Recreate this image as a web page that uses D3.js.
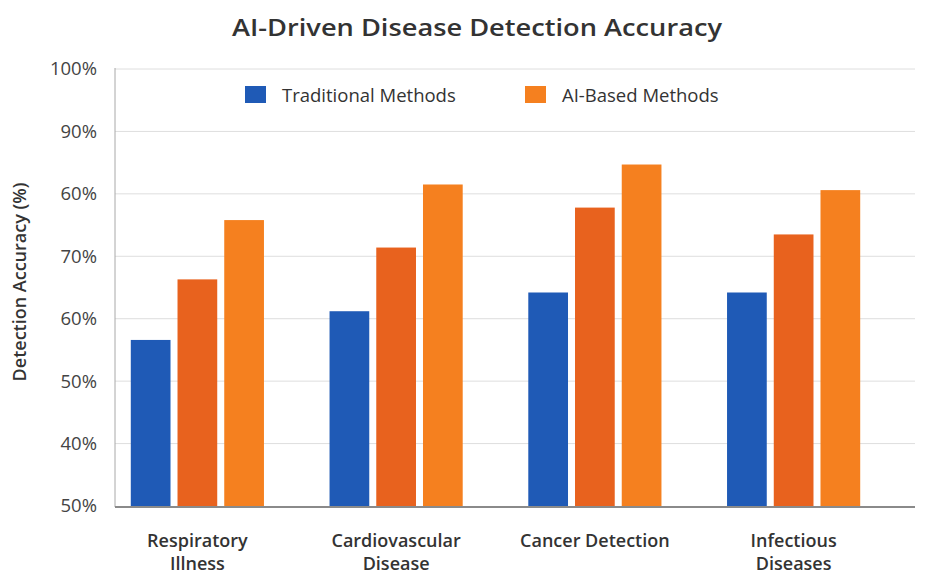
<!DOCTYPE html>
<html lang="en">
<head>
<meta charset="UTF-8">
<title>AI-Driven Disease Detection Accuracy</title>
<script src="https://d3js.org/d3.v7.min.js"></script>
<style>
    body { margin: 0; background: #fff; }
    svg text { font-family: "Open Sans", "Noto Sans", sans-serif; }
</style>
</head>
<body>
<script>
    // chart values
    var categories = ["Respiratory Illness", "Cardiovascular Disease", "Cancer Detection", "Infectious Diseases"];
    var categoryLines = [["Respiratory", "Illness"], ["Cardiovascular", "Disease"], ["Cancer Detection"], ["Infectious", "Diseases"]];
    var traditional = [56.6, 61.2, 64.2, 64.2];
    var aiMid = [66.3, 71.4, 77.8, 73.5];
    var aiHigh = [75.8, 81.5, 84.7, 80.6];
    var tickValues = [30, 40, 50, 60, 70, 80, 90, 100];
    var tickLabels = ["50%", "40%", "50%", "60%", "70%", "60%", "90%", "100%"];
    var legendNames = ["Traditional Methods", "AI-Based Methods"];

    var width = 933, height = 577;
    var plot = {left: 115, right: 915, top: 69, bottom: 506};

    var series = [
        {key: "t", values: traditional, color: "#1f5ab6"},
        {key: "m", values: aiMid, color: "#e8621e"},
        {key: "h", values: aiHigh, color: "#f5801f"}
    ];

    var svg = d3.select("body").append("svg")
        .attr("width", width)
        .attr("height", height);

    var y = d3.scaleLinear()
        .domain([30, 100])
        .range([plot.bottom, plot.top]);

    var x = d3.scaleBand()
        .domain(categories)
        .range([98, 893])
        .paddingInner(0.33)
        .paddingOuter(0.165);

    var x1 = d3.scaleBand()
        .domain(series.map(function (s) { return s.key; }))
        .range([0, x.bandwidth()])
        .paddingInner(0.15);

    // title
    svg.append("text")
        .attr("x", 477)
        .attr("y", 36)
        .attr("text-anchor", "middle")
        .attr("textLength", 490)
        .attr("lengthAdjust", "spacingAndGlyphs")
        .style("font-size", "24px")
        .style("font-weight", 600)
        .style("fill", "#333")
        .text("AI-Driven Disease Detection Accuracy");

    // gridlines
    svg.append("g")
        .selectAll("line")
        .data(tickValues.slice(1))
        .enter().append("line")
        .attr("x1", plot.left)
        .attr("x2", plot.right)
        .attr("y1", function (d) { return y(d); })
        .attr("y2", function (d) { return y(d); })
        .style("stroke", "#dedede")
        .style("stroke-width", 1);

    // y axis
    var yAxis = svg.append("g")
        .attr("transform", "translate(" + plot.left + ",0)")
        .call(d3.axisLeft(y)
            .tickValues(tickValues)
            .tickSize(0)
            .tickPadding(18)
            .tickFormat(function (d, i) { return tickLabels[i]; }));
    yAxis.select(".domain").remove();
    yAxis.selectAll("text")
        .style("font-size", "18.5px")
        .style("fill", "#444");

    svg.append("line")
        .attr("x1", plot.left).attr("x2", plot.left)
        .attr("y1", plot.top - 1).attr("y2", plot.bottom + 1)
        .style("stroke", "#a8a8a8");

    // bars
    var groups = svg.append("g")
        .selectAll("g")
        .data(categories)
        .enter().append("g")
        .attr("transform", function (d) { return "translate(" + x(d) + ",0)"; });

    groups.selectAll("rect")
        .data(function (d, i) {
            return series.map(function (s) { return {key: s.key, value: s.values[i], color: s.color}; });
        })
        .enter().append("rect")
        .attr("x", function (d) { return x1(d.key); })
        .attr("width", x1.bandwidth())
        .attr("y", function (d) { return y(d.value); })
        .attr("height", function (d) { return plot.bottom - y(d.value); })
        .style("fill", function (d) { return d.color; });

    // x axis
    svg.append("line")
        .attr("x1", plot.left).attr("x2", plot.right)
        .attr("y1", plot.bottom + 1).attr("y2", plot.bottom + 1)
        .style("stroke", "#8a8a8a")
        .style("stroke-width", 2);

    var xLabels = svg.append("g")
        .selectAll("text")
        .data(categories)
        .enter().append("text")
        .attr("x", function (d) { return x(d) + x.bandwidth() / 2; })
        .attr("y", 547)
        .attr("text-anchor", "middle")
        .style("font-size", "18px")
        .style("font-weight", 600)
        .style("fill", "#333");

    xLabels.each(function (d, i) {
        var t = d3.select(this);
        categoryLines[i].forEach(function (line, j) {
            t.append("tspan")
                .attr("x", x(d) + x.bandwidth() / 2)
                .attr("dy", j == 0 ? 0 : 23)
                .text(line);
        });
    });

    // y axis title
    svg.append("text")
        .attr("transform", "translate(26," + 282 + ") rotate(-90)")
        .attr("text-anchor", "middle")
        .style("font-size", "18px")
        .style("font-weight", 600)
        .style("fill", "#333")
        .text("Detection Accuracy (%)");

    // legend
    var legendX = [245, 525];
    var legendColors = [series[0].color, series[2].color];
    var legend = svg.append("g")
        .selectAll("g")
        .data(legendNames)
        .enter().append("g")
        .attr("transform", function (d, i) { return "translate(" + legendX[i] + ",0)"; });

    legend.append("rect")
        .attr("x", 0)
        .attr("y", 86)
        .attr("width", 21)
        .attr("height", 17)
        .style("fill", function (d, i) { return legendColors[i]; });

    legend.append("text")
        .attr("x", 37)
        .attr("y", 102)
        .style("font-size", "18.5px")
        .style("fill", "#333")
        .text(function (d) { return d; });
</script>
</body>
</html>
